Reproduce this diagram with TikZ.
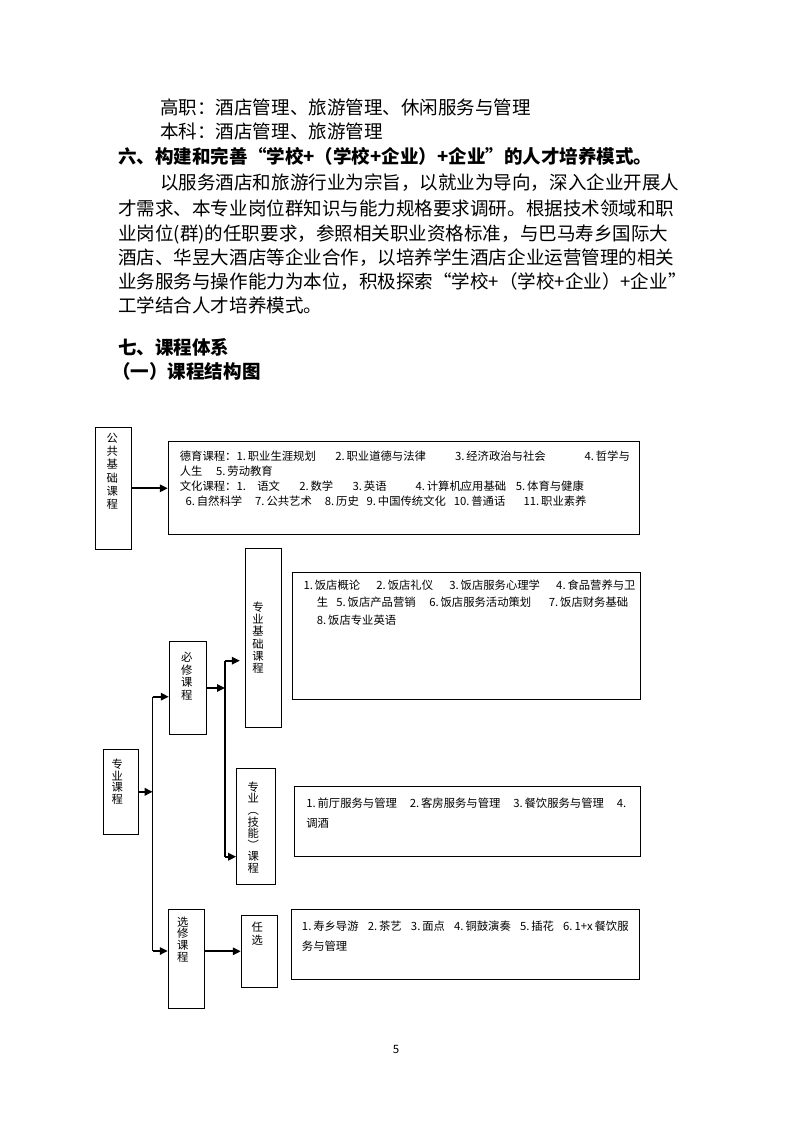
\documentclass[tikz,border=0pt]{standalone}
\usepackage{fontspec}
\setmainfont{Noto Sans CJK SC}
\usetikzlibrary{arrows.meta,fit}
\tikzset{
  body/.style={font=\fontsize{13.9}{18}\selectfont, anchor=base west, inner sep=0pt},
  head/.style={body, font=\fontsize{13.9}{18}\selectfont\bfseries},
  cbox/.style={draw, line width=0.75pt, inner sep=0pt},
  vlab/.style={font=\fontsize{8.5}{#1}\selectfont, align=center, inner sep=0pt, anchor=north},
  vlab/.default={9.6},
  ctext/.style={inner sep=0pt, anchor=north west, align=left},
  arr/.style={-{Triangle[length=6pt,width=5.5pt]}, line width=1.5pt},
  trunk/.style={line width=0.8pt},
}
\begin{document}
\begin{tikzpicture}[x=0.75pt,y=-0.75pt]
  \useasboundingbox (0,0) rectangle (794,1123);
  % Text above the chart
  \node[body] (gz) at (160,115) {高职：酒店管理、旅游管理、休闲服务与管理};
  \node[body] (bk) at (160,139) {本科：酒店管理、旅游管理};
  \node[head] (h6) at (118,164) {六、构建和完善“学校+（学校+企业）+企业”的人才培养模式。};
  \node[body] (p1) at (160,190) {以服务酒店和旅游行业为宗旨，以就业为导向，深入企业开展人};
  \node[body] (p2) at (118,215) {才需求、本专业岗位群知识与能力规格要求调研。根据技术领域和职};
  \node[body] (p3) at (118,240) {业岗位(群)的任职要求，参照相关职业资格标准，与巴马寿乡国际大};
  \node[body] (p4) at (118,264) {酒店、华昱大酒店等企业合作，以培养学生酒店企业运营管理的相关};
  \node[body] (p5) at (118,288) {业务服务与操作能力为本位，积极探索“学校+（学校+企业）+企业”};
  \node[body] (p6) at (118,312) {工学结合人才培养模式。};
  \node[head] (h7) at (118,354) {七、课程体系};
  \node[head] (h71) at (112,378) {（一）课程结构图};
  % Public base courses
  \node[cbox, fit={(95,427.3) (131.7,549.3)}] (gg) {};
  \node[vlab=10] (ggl) at (112.3,432.6) {公\\共\\基\\础\\课\\程};
  \node[cbox, fit={(168.3,441.3) (639.6,534.3)}] (dy) {};
  \node[ctext, font=\fontsize{8.5}{11.25}\selectfont] (dyt) at (179.6,450.3) {%
    \makebox[337.5pt][l]{德育课程：1.\,职业生涯规划\hspace{0pt plus 2fill}2.\,职业道德与法律\hspace{0pt plus 3fill}3.\,经济政治与社会\hspace{0pt plus 4fill}4.\,哲学与}\\
    人生\hspace{1.2em}5.\,劳动教育\\
    \makebox[303pt][l]{文化课程：1.\hspace{1em}语文\hfill 2.\,数学\hfill 3.\,英语\hspace{0pt plus 1.5fill}4.\,计算机应用基础\hspace{0pt plus 0.5fill}5.\,体育与健康}\\
    \makebox[305pt][l]{\hspace{0.5em}6.\,自然科学\hfill 7.\,公共艺术\hfill 8.\,历史\hspace{0pt plus 0.6fill}9.\,中国传统文化\hspace{0pt plus 0.6fill}10.\,普通话\hspace{0pt plus 1.4fill}11.\,职业素养}};
  \draw[arr] (gg.east) -- (gg.east -| dy.west);
  % Specialised courses
  \node[cbox, fit={(103.3,749.3) (138.7,834.3)}] (zy) {};
  \node[vlab=8.8] (zyl) at (117.3,758.5) {专\\业\\课\\程};
  \node[cbox, fit={(169.3,641.7) (206.7,734.3)}] (bx) {};
  \node[vlab] (bxl) at (186.7,651.5) {必\\修\\课\\程};
  \node[cbox, fit={(168.3,909.3) (204.3,1008.3)}] (xx) {};
  \node[vlab=8.8] (xxl) at (182.7,916.5) {选\\修\\课\\程};
  \coordinate (lt) at (152.7,696.7);
  \coordinate (lb) at (152.7,951);
  \draw[trunk] (lt) -- (lb);
  \draw[arr] (zy.east) -- (zy.east -| lt);
  \draw[arr] (lt) -- (lt -| bx.west);
  \draw[arr] (lb) -- (lb -| xx.west);
  % Compulsory branch
  \node[cbox, fit={(245.7,548.3) (281.3,727.3)}] (zj) {};
  \node[vlab=9.2] (zjl) at (258,601.5) {专\\业\\基\\础\\课\\程};
  \node[cbox, fit={(292.5,572.3) (640,699)}] (zjt) {};
  \node[ctext, font=\fontsize{8.5}{13.1}\selectfont] (zjx) at (303.3,579.3) {%
    \makebox[249pt][l]{1.\,饭店概论\hfill 2.\,饭店礼仪\hfill 3.\,饭店服务心理学\hfill 4.\,食品营养与卫}\\
    \hspace{10pt}\makebox[233.5pt][l]{生\hspace{0pt plus 0.6fill}5.\,饭店产品营销\hfill 6.\,饭店服务活动策划\hspace{0pt plus 1.3fill}7.\,饭店财务基础}\\
    \hspace{10pt}8.\,饭店专业英语};
  \node[cbox, fit={(236.7,768.3) (275.3,884.3)}] (jn) {};
  \node[vlab=8.7] (jnl) at (253.3,781.5) {专\\业\\︵\\技\\能\\︶\\课\\程};
  \node[cbox, fit={(294.3,786.7) (640,856)}] (jnt) {};
  \node[ctext, font=\fontsize{8.5}{15}\selectfont] (jnx) at (306,797.6) {%
    \makebox[240pt][l]{1.\,前厅服务与管理\hfill 2.\,客房服务与管理\hfill 3.\,餐饮服务与管理\hfill 4.}\\
    调酒};
  \coordinate (rt) at (225,660.7);
  \coordinate (rb) at (225,856.7);
  \draw[trunk] (rt) -- (rb);
  \draw[arr] (bx.east) -- (bx.east -| rt);
  \draw[arr, shorten >=4pt] (rt) -- (rt -| zj.west);
  \draw[arr] (rb) -- (rb -| jn.west);
  % Elective branch
  \node[cbox, fit={(241.3,915.3) (277.3,987.3)}] (rx) {};
  \node[vlab=10] (rxl) at (257.3,921.5) {任\\选};
  \node[cbox, fit={(291.7,909.3) (639.3,979.3)}] (rxt) {};
  \node[ctext, font=\fontsize{8.5}{15}\selectfont] (rxx) at (301.7,920.3) {%
    \makebox[245pt][l]{1.\,寿乡导游\hfill 2.\,茶艺\hfill 3.\,面点\hfill 4.\,铜鼓演奏\hfill 5.\,插花\hfill 6.\,1+x\,餐饮服}\\
    务与管理};
  \draw[arr] (xx.east |- rx.west) -- (rx.west);
  % Page number
  \node[font=\fontsize{8.6}{10}\selectfont, inner sep=0pt] (pg) at (396,1049) {5};
\end{tikzpicture}
\end{document}
